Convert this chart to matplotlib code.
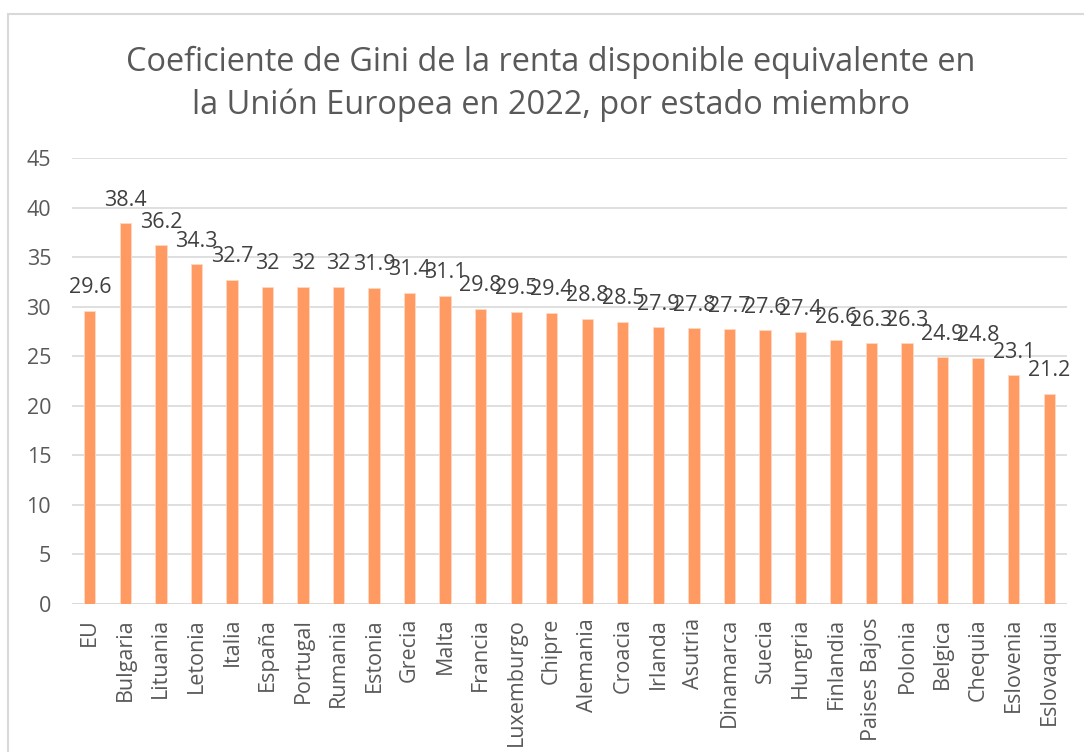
import numpy as np
import matplotlib
matplotlib.use("Agg")
import matplotlib.pyplot as plt
from matplotlib.patches import Rectangle

countries = ["EU", "Bulgaria", "Lituania", "Letonia", "Italia", "España", "Portugal",
             "Rumania", "Estonia", "Grecia", "Malta", "Francia", "Luxemburgo", "Chipre",
             "Alemania", "Croacia", "Irlanda", "Asutria", "Dinamarca", "Suecia", "Hungria",
             "Finlandia", "Paises Bajos", "Polonia", "Belgica", "Chequia", "Eslovenia",
             "Eslovaquia"]
gini = [29.6, 38.4, 36.2, 34.3, 32.7, 32, 32, 32, 31.9, 31.4, 31.1, 29.8, 29.5, 29.4,
        28.8, 28.5, 27.9, 27.8, 27.7, 27.6, 27.4, 26.6, 26.3, 26.3, 24.9, 24.8, 23.1, 21.2]

plt.rcParams['font.family'] = ['Open Sans', 'DejaVu Sans']

fig = plt.figure(figsize=(10.84, 7.52), dpi=100)
ax = fig.add_axes([72/1084, 1 - 604/752, (1067 - 72)/1084, (604 - 158)/752])

# chart border
fig.patches.append(Rectangle((8/1084, -0.01), 1.0, 1 - 14/752 + 0.01, transform=fig.transFigure,
                             fill=False, edgecolor="#d9d9d9", linewidth=1.5))

x = np.arange(len(countries))
bars = ax.bar(x, gini, width=0.32, color="#ff9a62", edgecolor="#ffd9c4", linewidth=0.6, zorder=3)

for xi, v in zip(x, gini):
    ax.annotate(f"{v:g}", (xi, v), xytext=(0, 9), textcoords="offset points",
                ha="center", va="bottom", fontsize=15.5, color="#404040")

ax.set_xlim(-0.5, len(countries) - 0.5)
ax.set_ylim(0, 45)
ax.set_yticks(np.arange(0, 46, 5))
ax.grid(axis="y", color="#d9d9d9", linewidth=1.2, zorder=0)
ax.set_xticks(x)
ax.set_xticklabels(countries, rotation=90, fontsize=15.5, color="#595959")
ax.tick_params(axis="y", labelsize=15.5, labelcolor="#595959", length=0, pad=15)
ax.tick_params(axis="x", length=0, pad=10)
for s in ax.spines.values():
    s.set_visible(False)
ax.axhline(0, color="#d9d9d9", linewidth=1.2, zorder=2)

fig.text(551/1084, 1 - 62/752, "Coeficiente de Gini de la renta disponible equivalente en",
         ha="center", va="center", fontsize=23.4, color="#595959")
fig.text(551/1084, 1 - 105/752, "la Unión Europea en 2022, por estado miembro",
         ha="center", va="center", fontsize=23.4, color="#595959")

fig.savefig("out.png", dpi=100)
